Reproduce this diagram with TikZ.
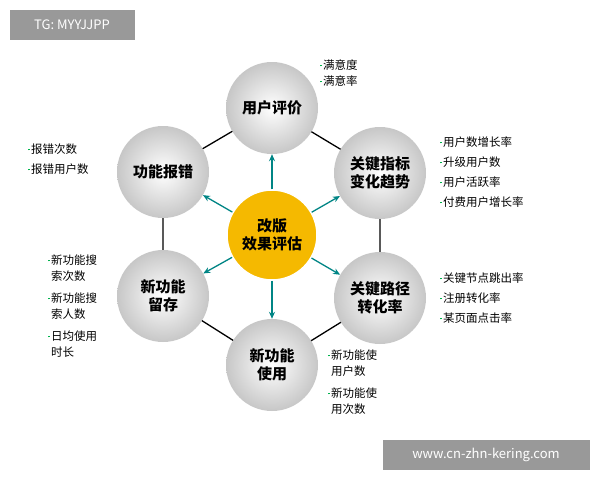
\documentclass[tikz,border=0pt]{standalone}
\usepackage{fontspec}
\setmainfont{Noto Sans CJK SC}
\usetikzlibrary{arrows.meta}
\definecolor{gold}{RGB}{245,185,0}
\tikzset{
 ball/.style={circle,minimum size=92pt,inner sep=0pt,shading=radial,inner color=white,outer color=black!22,font=\fontsize{15}{18}\selectfont\bfseries,align=center},
 core/.style={circle,minimum size=90pt,inner sep=0pt,fill=gold,draw=white,line width=1.5pt,font=\fontsize{15}{18}\selectfont\bfseries,align=center},
 hexl/.style={line width=1.3pt,black},
 arr/.style={-{Stealth[length=7pt,width=6pt]},line width=1.3pt,teal!70!cyan!80!black},
 lst/.style={anchor=north west,font=\fontsize{11.5}{16}\selectfont,align=left,inner sep=0pt},
 wm/.style={fill=black!40,text=white,font=\fontsize{13}{15}\selectfont,inner sep=0pt}
}
\newcommand{\bl}{\textcolor{teal!60!green}{\rule[3.5pt]{1.8pt}{1.8pt}}\hspace{1pt}}
\begin{document}
\begin{tikzpicture}[x=1pt,y=-1pt]
\useasboundingbox (0,0) rectangle (600,480);
\fill[white] (0,0) rectangle (600,480);
\node[wm,minimum width=125pt,minimum height=30pt] (w1) at (72,25) {TG: MYYJJPP};
\node[wm,minimum width=207pt,minimum height=30pt] (w2) at (486,455) {www.cn-zhn-kering.com};
\coordinate (pT) at (272,108);
\coordinate (pUR) at (380,173);
\coordinate (pLR) at (380,298);
\coordinate (pB) at (272,365);
\coordinate (pLL) at (163,296);
\coordinate (pUL) at (163,172);
\draw[hexl] (pT)--(pUR)--(pLR)--(pB)--(pLL)--(pUL)--cycle;
\node[core] (c) at (272,235) {改版\\效果评估};
\node[ball] (t) at (pT) {用户评价};
\node[ball] (ur) at (pUR) {关键指标\\变化趋势};
\node[ball] (lr) at (pLR) {关键路径\\转化率};
\node[ball] (b) at (pB) {新功能\\使用};
\node[ball] (ll) at (pLL) {新功能\\留存};
\node[ball] (ul) at (pUL) {功能报错};
\foreach \n in {t,ur,lr,b,ll,ul}{\draw[arr] (c) -- (\n);}
\node[lst] (l1) at (320,60) {\bl{}满意度\\\bl{}满意率};
\node[lst] (l2) at (440,137) {\bl{}用户数增长率\\[4pt]\bl{}升级用户数\\[4pt]\bl{}用户活跃率\\[4pt]\bl{}付费用户增长率};
\node[lst] (l3) at (440,273) {\bl{}关键节点跳出率\\[4pt]\bl{}注册转化率\\[4pt]\bl{}某页面点击率};
\node[lst] (l4) at (328,350) {\bl{}新功能使\\\hspace{3pt}用户数\\[6pt]\bl{}新功能使\\\hspace{3pt}用次数};
\node[lst] (l5) at (48,255) {\bl{}新功能搜\\\hspace{3pt}索次数\\[6pt]\bl{}新功能搜\\\hspace{3pt}索人数\\[6pt]\bl{}日均使用\\\hspace{3pt}时长};
\node[lst] (l6) at (28,144) {\bl{}报错次数\\[4pt]\bl{}报错用户数};
\end{tikzpicture}
\end{document}
